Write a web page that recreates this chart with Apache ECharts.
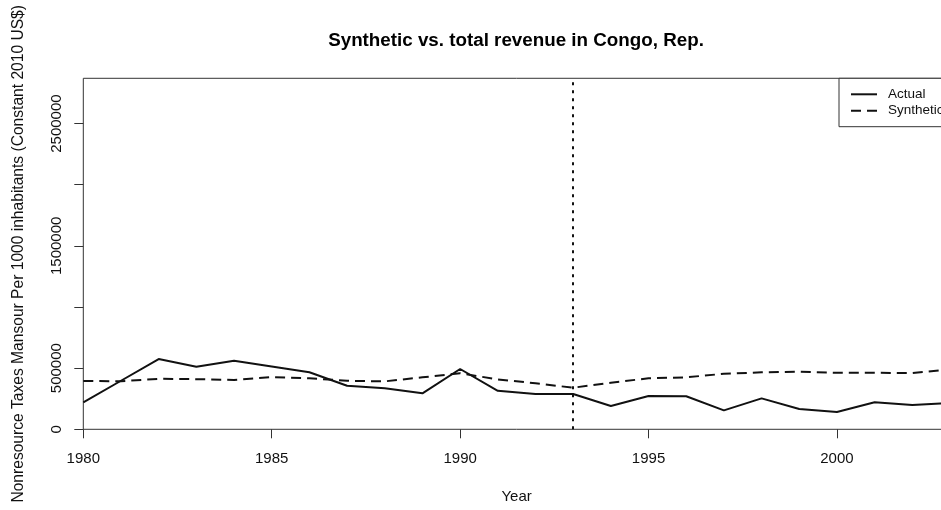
<!DOCTYPE html>
<html>
<head>
<meta charset="utf-8">
<script src="https://cdn.jsdelivr.net/npm/echarts@6/dist/echarts.min.js"></script>
<style>
  html, body { margin: 0; padding: 0; background: #fff; overflow: hidden; }
  /* wider than the window: the plot box runs past the right edge, as in the original */
  #chart { width: 960px; height: 510px; }
</style>
</head>
<body>
<div id="chart"></div>
<script>
// values
const years = [1980, 1981, 1982, 1983, 1984, 1985, 1986, 1987, 1988, 1989, 1990, 1991,
               1992, 1993, 1994, 1995, 1996, 1997, 1998, 1999, 2000, 2001, 2002, 2003];
const actual = [221000, 397000, 574000, 511000, 560000, 513000, 466000, 356000, 335000, 294000, 493000, 315000,
                288000, 288000, 190000, 272000, 270000, 155000, 253000, 166000, 141000, 221000, 199000, 215000];
const synthetic = [395000, 393000, 413000, 410000, 403000, 427000, 417000, 397000, 392000, 425000, 458000, 408000,
                   376000, 340000, 381000, 417000, 425000, 454000, 466000, 471000, 462000, 462000, 460000, 490000];
const treatmentYear = 1993;

const xTicks = [1980, 1985, 1990, 1995, 2000];
const yTicks = [0, 500000, 1000000, 1500000, 2000000, 2500000];
const yLabels = [0, 500000, 1500000, 2500000]; // R drops the ones that would overlap

const font = 'Liberation Sans, Arial, Helvetica, sans-serif';
const hidden = { color: 'rgba(0,0,0,0)', borderColor: 'rgba(0,0,0,0)', borderWidth: 0 };

const chart = echarts.init(document.getElementById('chart'), null, { renderer: 'canvas' });

chart.setOption({
  animation: false,
  backgroundColor: '#fff',
  textStyle: { fontFamily: font },
  title: {
    text: 'Synthetic vs. total revenue in Congo, Rep.',
    left: 511,
    textAlign: 'center',
    top: 26,
    textStyle: { fontSize: 18.8, fontWeight: 'bold', color: '#000', fontFamily: font }
  },
  grid: {
    left: 83.3, top: 78.3, right: 10, height: 351,
    show: true, borderColor: '#333', borderWidth: 1
  },
  legend: {
    data: [
      { name: 'Actual', itemStyle: hidden },
      { name: 'Synthetic', itemStyle: hidden }
    ],
    orient: 'vertical',
    left: 839, top: 78.3,
    padding: [9, 10, 9, 11],
    itemWidth: 26, itemHeight: 14, itemGap: 2.4,
    borderColor: '#333', borderWidth: 1, borderRadius: 0,
    backgroundColor: '#fff',
    textStyle: { fontSize: 13.5, color: '#111', fontFamily: font, padding: [0, 0, 0, 6] }
  },
  xAxis: {
    type: 'value',
    min: 1980, max: 2003,
    name: 'Year',
    nameLocation: 'middle',
    nameGap: 60,
    nameTextStyle: { fontSize: 15, color: '#111', fontFamily: font },
    axisLine: { show: false },
    axisTick: { show: true, customValues: xTicks, length: 9, lineStyle: { color: '#333', width: 1 } },
    axisLabel: { customValues: xTicks, fontSize: 15, color: '#111', margin: 22, fontFamily: font,
                 formatter: v => String(v) },
    splitLine: { show: false }
  },
  yAxis: {
    type: 'value',
    min: 0, max: 2870000,
    name: 'Nonresource Taxes Mansour Per 1000 inhabitants (Constant 2010 US$)',
    nameLocation: 'middle',
    nameRotate: 90,
    nameGap: 57,
    nameTextStyle: { fontSize: 15.6, color: '#111', fontFamily: font },
    axisLine: { show: false },
    axisTick: { show: true, customValues: yTicks, length: 9, lineStyle: { color: '#333', width: 1 } },
    axisLabel: { customValues: yLabels, rotate: 90, fontSize: 15, color: '#111', margin: 19, fontFamily: font,
                 formatter: v => String(v) },
    splitLine: { show: false }
  },
  series: [
    {
      name: 'Actual',
      type: 'line',
      data: years.map((y, i) => [y, actual[i]]),
      symbol: 'none',
      lineStyle: { color: '#111', width: 2, type: 'solid' },
      itemStyle: { color: '#111' },
      markLine: {
        silent: true,
        symbol: ['none', 'none'],
        label: { show: false },
        lineStyle: { color: '#111', width: 2, type: [3, 5] },
        data: [{ xAxis: treatmentYear }]
      }
    },
    {
      name: 'Synthetic',
      type: 'line',
      data: years.map((y, i) => [y, synthetic[i]]),
      symbol: 'none',
      lineStyle: { color: '#111', width: 2, type: [10, 6] },
      itemStyle: { color: '#111' }
    }
  ]
});
</script>
</body>
</html>
